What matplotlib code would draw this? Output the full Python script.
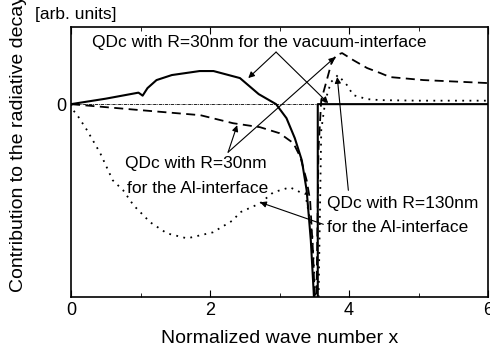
import matplotlib
matplotlib.use('Agg')
import matplotlib.pyplot as plt

# curve data (x: normalized wave number, y: arb. units)
vac_x = [0, 0.5, 0.97, 1.0, 1.03, 1.1, 1.23, 1.45, 1.85, 2.05, 2.43, 2.7, 2.95,
         3.1, 3.22, 3.32, 3.39, 3.45, 3.49, 3.5, 3.55, 3.55, 6.0]
vac_y = [0, 0.071, 0.149, 0.130, 0.110, 0.208, 0.312, 0.377, 0.429, 0.429, 0.338,
         0.130, 0, -0.182, -0.442, -0.727, -1.117, -1.766, -2.416, -2.6, -2.6, 0, 0]

al30_x = [0, 1.0, 1.86, 2.33, 2.72, 3.0, 3.2, 3.3, 3.39, 3.44, 3.48, 3.51,
          3.53, 3.56, 3.6, 3.68, 3.75, 3.82, 3.9, 4.06, 4.26, 4.45, 4.59, 5.07, 6.0]
al30_y = [0, -0.078, -0.143, -0.247, -0.299, -0.377, -0.506, -0.688, -0.987,
          -1.247, -1.896, -2.6, -2.6, -0.597, 0.052, 0.312, 0.545, 0.636, 0.662,
          0.571, 0.468, 0.403, 0.351, 0.312, 0.273]

al130_x = [0, 0.03, 0.09, 0.23, 0.42, 0.6, 0.75, 0.9, 1.14, 1.38, 1.67, 2.04, 2.33,
           2.43, 2.72, 2.91, 3.15, 3.3, 3.37, 3.47, 3.52, 3.56, 3.6, 3.66, 3.74,
           3.84, 3.97, 4.06, 4.26, 4.45, 5.0, 6.0]
al130_y = [0, -0.078, -0.143, -0.338, -0.636, -0.987, -1.117, -1.312, -1.532,
           -1.675, -1.740, -1.662, -1.506, -1.403, -1.286, -1.143, -1.078, -1.143,
           -1.156, -1.675, -2.6, -2.6, -0.338, 0.052, 0.286, 0.377, 0.247, 0.117,
           0.065, 0.052, 0.045, 0.045]

FONT = 'Liberation Sans'
plt.rcParams['font.family'] = [FONT, 'DejaVu Sans']

fig = plt.figure(figsize=(4.9, 3.6), dpi=100)
ax = fig.add_axes([0.145, 0.175, 0.851, 0.75])

ax.plot([0, 6], [0, 0], color='black', lw=0.6, linestyle=(0, (4, 1, 1, 1)))
ax.plot(vac_x, vac_y, color='black', lw=1.5)
ax.plot(al30_x, al30_y, color='black', lw=1.3, linestyle=(0, (5, 3)))
ax.plot(al130_x, al130_y, color='black', lw=1.3, linestyle=(0, (1, 3)))

ax.set_xlim(0, 6)
ax.set_ylim(-2.5, 1.0)
ax.set_xticks([0, 2, 4, 6])
ax.set_xticks([1, 3, 5], minor=True)
ax.set_yticks([0])
ax.tick_params(direction='in', top=True, length=5, labelsize=13)
ax.tick_params(which='minor', direction='in', top=True, length=3)
for s in ax.spines.values():
    s.set_linewidth(1.2)

ax.set_xlabel('Normalized wave number x', fontsize=14, labelpad=8)
fig.text(0.037, 0.6, 'Contribution to the radiative decay', rotation=90,
         ha='center', va='center', fontsize=14)
fig.text(0.071, 0.961, '[arb. units]', ha='left', va='center', fontsize=12.5)

arr = dict(arrowstyle='-|>', color='black', lw=0.8, mutation_scale=9,
           shrinkA=0, shrinkB=0)
TS = 12.5

# vacuum-interface
ax.text(0.30, 0.805, 'QDc with R=30nm for the vacuum-interface', fontsize=TS,
        ha='left', va='center')
ax.annotate('', xy=(2.55, 0.338), xytext=(2.95, 0.675), arrowprops=arr)
ax.annotate('', xy=(3.70, 0.013), xytext=(2.95, 0.675), arrowprops=arr)

# R=30nm Al-interface
ax.text(0.78, -0.766, 'QDc with R=30nm', fontsize=TS, ha='left', va='center')
ax.text(0.81, -1.09, 'for the Al-interface', fontsize=TS, ha='left', va='center')
ax.annotate('', xy=(2.39, -0.273), xytext=(2.26, -0.623), arrowprops=arr)
ax.annotate('', xy=(3.80, 0.61), xytext=(2.26, -0.623), arrowprops=arr)

# R=130nm Al-interface
ax.text(3.68, -1.286, 'QDc with R=130nm', fontsize=TS, ha='left', va='center')
ax.text(3.68, -1.597, 'for the Al-interface', fontsize=TS, ha='left', va='center')
ax.annotate('', xy=(2.72, -1.273), xytext=(3.63, -1.558), arrowprops=arr)
ax.annotate('', xy=(3.83, 0.351), xytext=(3.99, -1.117), arrowprops=arr)

fig.savefig('out.png', dpi=100)
